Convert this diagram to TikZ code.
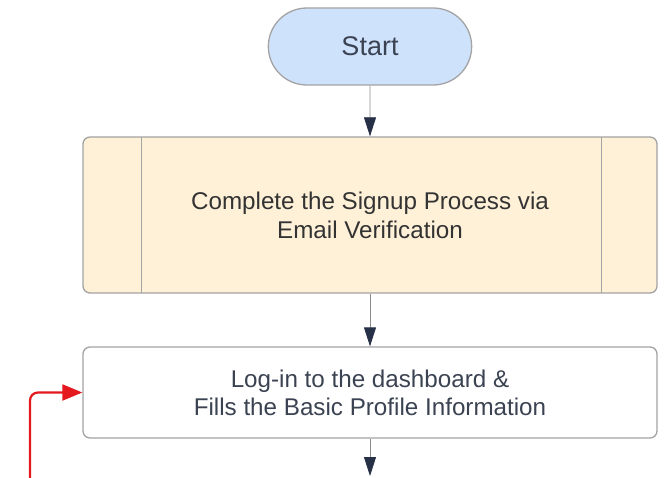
\documentclass[tikz,border=0pt]{standalone}
\usepackage{fontspec}
\setmainfont{Liberation Sans}
\usetikzlibrary{arrows.meta,shapes.misc}
\definecolor{edgegray}{HTML}{A3A3A3}
\definecolor{linegray}{HTML}{8C8C8C}
\definecolor{tipnavy}{HTML}{263046}
\definecolor{startblue}{HTML}{CFE2FC}
\definecolor{signupcream}{HTML}{FFF1D8}
\definecolor{textslate}{HTML}{3B4352}
\definecolor{loopred}{HTML}{E3191E}
\begin{document}
\begin{tikzpicture}[x=1pt,y=1pt,
  terminal/.style={rounded rectangle, draw=edgegray, line width=1.3pt, fill=startblue,
    minimum width=210pt, minimum height=77pt, text=textslate, font=\fontsize{27}{31}\selectfont},
  predefined/.style={rectangle, rounded corners=7pt, draw=edgegray, line width=1.3pt, fill=signupcream,
    minimum width=574pt, minimum height=156pt, align=center, text=black!80,
    font=\fontsize{24.2}{29}\selectfont,
    path picture={\draw[edgegray, line width=0.8pt]
      ([xshift=58pt]path picture bounding box.north west) -- ([xshift=58pt]path picture bounding box.south west)
      ([xshift=-56pt]path picture bounding box.north east) -- ([xshift=-56pt]path picture bounding box.south east);}},
  process/.style={rectangle, rounded corners=7pt, draw=edgegray, line width=1.3pt, fill=white,
    minimum width=574pt, minimum height=91pt, align=center, text=textslate,
    font=\fontsize{24.2}{28}\selectfont},
  flow/.style={linegray, line width=0.8pt, -{Triangle[width=12pt,length=19pt,color=tipnavy]}},
  back/.style={loopred, line width=2.2pt, rounded corners=8pt, -{Triangle[width=16pt,length=20pt]}}]
\useasboundingbox (0,0) rectangle (669,-478);
\node[terminal] (start) at (370,-46.5) {Start};
\node[predefined] (signup) at (370,-215) {Complete the Signup Process via\\Email Verification};
\node[process] (login) at (370,-392.5) {Log-in to the dashboard \&\\Fills the Basic Profile Information};
\coordinate (next) at (370,-476);
\coordinate (retry) at (30,-478);
\draw[flow] (start) -- (signup);
\draw[flow] (signup) -- (login);
\draw[flow] (login) -- (next);
\draw[back] (retry) |- (login.west);
\end{tikzpicture}
\end{document}
